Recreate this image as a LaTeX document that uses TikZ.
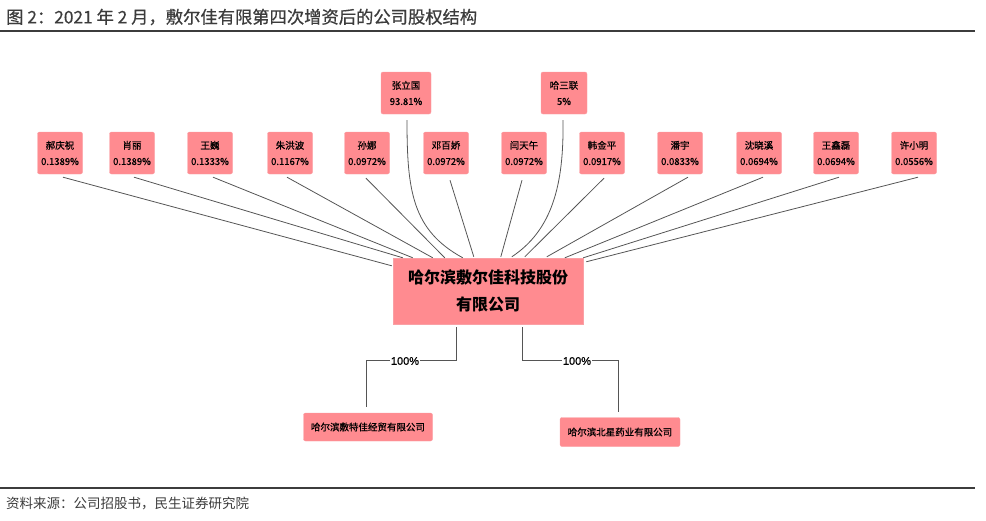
\documentclass[tikz,border=0pt]{standalone}
\usepackage{fontspec}
\setmainfont{Liberation Sans}
\newfontfamily\cjk{Noto Sans CJK SC}
\newfontfamily\cjkm[FakeBold=0.6]{Noto Sans CJK SC}
\newfontfamily\pctfont[FakeBold=0.8]{Liberation Sans}
\usetikzlibrary{calc}
\definecolor{boxpink}{RGB}{255,139,144}
\definecolor{boxedge}{RGB}{250,160,165}
\definecolor{linegray}{RGB}{85,85,85}
\definecolor{titlegray}{RGB}{60,60,60}
\begin{document}
\begin{tikzpicture}[x=1pt,y=-1pt,
  holder/.style={draw=boxedge,line width=0.4pt,fill=boxpink,rounded corners=2pt,inner sep=0pt,
     minimum width=45pt,minimum height=42pt,align=center,
     font=\cjkm\fontsize{9.5}{16}\selectfont},
  bigbox/.style={draw=boxedge,line width=0.4pt,fill=boxpink,inner sep=0pt,
     minimum width=190pt,minimum height=66pt,align=center,
     font=\cjk\bfseries\fontsize{16}{27}\selectfont},
  subbox/.style={draw=boxedge,line width=0.4pt,fill=boxpink,rounded corners=2pt,inner sep=0pt,
     minimum height=28pt,font=\cjkm\fontsize{9.5}{12}\selectfont},
  link/.style={draw=linegray,line width=0.8pt},
  pct/.style={fill=white,inner sep=1pt,font=\pctfont\fontsize{11}{12}\selectfont}
  ]
\useasboundingbox (0,0) rectangle (986,520);
% title and rules
\node[anchor=west,inner sep=0pt,text=titlegray,font=\cjkm\fontsize{17.3}{20}\selectfont] (title) at (6,17) {图 2：2021 年 2 月，敷尔佳有限第四次增资后的公司股权结构};
\draw[titlegray,line width=2pt] (0,30.5) -- (975,30.5);
\draw[titlegray,line width=1.3pt] (0,488) -- (975,488);
\node[anchor=west,inner sep=0pt,text=titlegray,font=\cjk\fontsize{13.5}{16}\selectfont] (src) at (6,503) {资料来源：公司招股书，民生证券研究院};
% shareholders
\node[holder] (b1)  at (60,153)  {郝庆祝\\0.1389\%};
\node[holder] (b2)  at (132,153) {肖丽\\0.1389\%};
\node[holder] (b3)  at (210,153) {王巍\\0.1333\%};
\node[holder] (b4)  at (290,153) {朱洪波\\0.1167\%};
\node[holder] (b5)  at (367,153) {孙娜\\0.0972\%};
\node[holder,minimum width=50pt] (zl) at (406,93) {张立国\\93.81\%};
\node[holder] (b6)  at (446,153) {邓百娇\\0.0972\%};
\node[holder] (b7)  at (524,153) {闫天午\\0.0972\%};
\node[holder,minimum width=46pt] (hs) at (564,93) {哈三联\\5\%};
\node[holder] (b8)  at (602,153) {韩金平\\0.0917\%};
\node[holder] (b9)  at (680,153) {潘宇\\0.0833\%};
\node[holder] (b10) at (759,153) {沈晓溪\\0.0694\%};
\node[holder] (b11) at (836,153) {王鑫磊\\0.0694\%};
\node[holder] (b12) at (914,153) {许小明\\0.0556\%};
% main company
\node[bigbox] (m) at (488,291) {哈尔滨敷尔佳科技股份\\有限公司};
% subsidiaries
\node[subbox,minimum width=129pt] (s1) at (368,427) {哈尔滨敷特佳经贸有限公司};
\node[subbox,minimum width=120pt,minimum height=29pt] (s2) at (620,432) {哈尔滨北星药业有限公司};
% connectors to main company
\draw[link] ($(b1.south)+(3,3)$)  -- ($(m.north west)+(-1,8)$);
\draw[link] ($(b2.south)+(2,3)$)  -- ($(m.north west)+(10,0)$);
\draw[link] ($(b3.south)+(3,3)$)  -- ($(m.north west)+(20,0)$);
\draw[link] ($(b4.south)+(-3,3)$) -- ($(m.north west)+(40,0)$);
\draw[link] ($(b5.south)+(-1,4)$) -- ($(m.north west)+(52,0)$);
\draw[link] ($(zl.south)+(1,6)$) .. controls ($(zl.south)+(1,76)$) and ($(zl.south)+(6,116)$) .. ($(m.north west)+(70,0)$);
\draw[link] ($(b6.south)+(4,6)$)  -- ($(m.north west)+(81,-1)$);
\draw[link] ($(b7.south)+(-2,6)$) -- ($(m.north west)+(108,-1)$);
\draw[link] ($(hs.south)+(-1,6)$) .. controls ($(hs.south)+(0,71)$) and ($(hs.south)+(-12,116)$) .. ($(m.north west)+(119,-1)$);
\draw[link] ($(b8.south)+(2,4)$)  -- ($(m.north west)+(132,-1)$);
\draw[link] ($(b9.south)+(8,3)$)  -- ($(m.north west)+(154,-1)$);
\draw[link] ($(b10.south)+(4,3)$) -- ($(m.north west)+(172,0)$);
\draw[link] ($(b11.south)+(3,3)$) -- ($(m.north east)+(0,0)$);
\draw[link] ($(b12.south)+(4,3)$) -- ($(m.north east)+(3,4)$);
% connectors to subsidiaries
\coordinate (k1) at ($(m.south)+(-32,3)$);
\coordinate (k2) at ($(m.south)+(34,3)$);
\draw[link] (k1) |- ($(s1.north)+(-2,-52)$) -- ($(s1.north)+(-2,-6)$);
\draw[link] (k2) |- ($(s2.north)+(-2,-56.5)$) -- ($(s2.north)+(-2,-5)$);
\node[pct] (p1) at (405,361) {100\%};
\node[pct] (p2) at (577,361) {100\%};
\end{tikzpicture}
\end{document}
